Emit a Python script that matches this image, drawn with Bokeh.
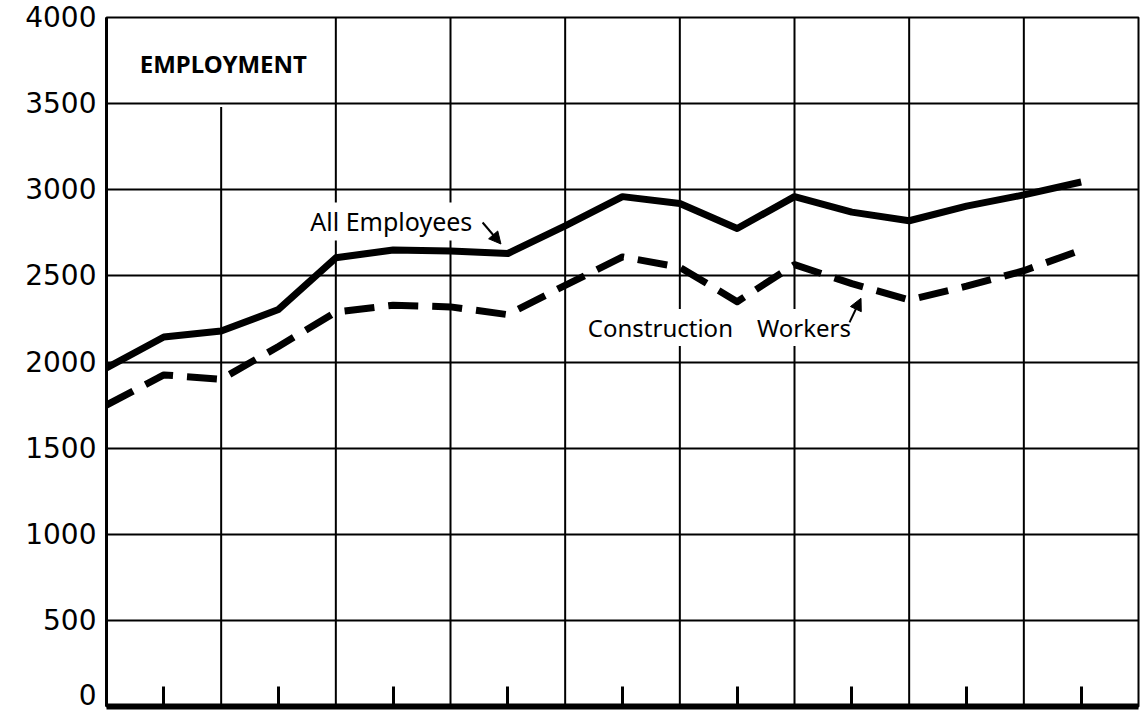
from bokeh.plotting import figure
from bokeh.models import FixedTicker, Label, Arrow, NormalHead, Range1d
from bokeh.embed import file_html
from bokeh.resources import INLINE

# ---- data ----
period = [0.0, 0.5, 1.0, 1.5, 2.0, 2.5, 3.0, 3.5, 4.0, 4.5,
          5.0, 5.5, 6.0, 6.5, 7.0, 7.5, 8.0, 8.5]
all_employees = [1965, 2145, 2180, 2305, 2605, 2650, 2645, 2630, 2790, 2960,
                 2920, 2775, 2960, 2870, 2820, 2905, 2970, 3045]
construction_workers = [1750, 1925, 1900, 2090, 2290, 2330, 2320, 2275, 2445, 2610,
                        2550, 2350, 2565, 2455, 2360, 2440, 2530, 2650]
y_ticks = [0, 500, 1000, 1500, 2000, 2500, 3000, 3500, 4000]
x_marks = [0.5, 1.5, 2.5, 3.5, 4.5, 5.5, 6.5, 7.5, 8.5]
grid_x = [1, 2, 3, 4, 5, 6, 7, 8]
grid_top = [3480, 4000, 4000, 4000, 4000, 4000, 4000, 4000]

p = figure(width=1141, height=712, x_range=Range1d(0, 9), y_range=Range1d(0, 4000),
           output_backend="svg", toolbar_location=None,
           min_border_left=106, min_border_right=3, min_border_top=17, min_border_bottom=6)
p.background_fill_color = "white"
p.border_fill_color = "white"
p.outline_line_color = "black"
p.outline_line_width = 2

# grids
p.xgrid.visible = False
p.ygrid.ticker = FixedTicker(ticks=y_ticks[1:-1])
p.ygrid.grid_line_color = "black"
p.ygrid.grid_line_width = 2
p.ygrid.grid_line_alpha = 1.0

p.segment(x0=grid_x, y0=[0] * len(grid_x), x1=grid_x, y1=grid_top,
          line_color="black", line_width=2)

# y axis
p.yaxis.ticker = FixedTicker(ticks=y_ticks)
p.yaxis.major_tick_in = 0
p.yaxis.major_tick_out = 0
p.yaxis.minor_tick_line_color = None
p.yaxis.axis_line_width = 3
p.yaxis.axis_line_color = "black"
p.yaxis.major_label_text_font = "DejaVu Sans"
p.yaxis.major_label_text_font_size = "28px"
p.yaxis.major_label_text_color = "black"
p.yaxis.major_label_standoff = 10
p.yaxis.major_label_text_line_height = 0.02
# the zero label sits a little above the base line, as in the reference
p.yaxis.major_label_overrides = {0: "0\n "}

# x axis: thick base line with inward marks, no labels
p.xaxis.ticker = FixedTicker(ticks=x_marks)
p.xaxis.major_tick_in = 20
p.xaxis.major_tick_out = 0
p.xaxis.major_tick_line_width = 3
p.xaxis.major_tick_line_color = "black"
p.xaxis.minor_tick_line_color = None
p.xaxis.axis_line_width = 6
p.xaxis.axis_line_color = "black"
p.xaxis.major_label_text_font_size = "1px"
p.xaxis.major_label_text_alpha = 0
p.xaxis.major_label_standoff = 0

# data lines
p.line(period, all_employees, line_color="black", line_width=7, line_join="round")
p.line(period, construction_workers, line_color="black", line_width=7,
       line_dash="30 14", line_join="round")

# labels
lab_font = "Noto Sans"
p.add_layout(Label(x=0.29, y=3734, text="EMPLOYMENT", text_font=lab_font,
                   text_font_style="bold", text_font_size="24px", text_color="black",
                   text_baseline="middle", text_align="left"))
p.add_layout(Label(x=1.76, y=2816, text="All Employees", text_font=lab_font,
                   text_font_size="25px", text_color="black", text_baseline="middle",
                   text_align="left", background_fill_color="white", padding=2))
p.add_layout(Label(x=4.18, y=2200, text="Construction\u2003Workers", text_font=lab_font,
                   text_font_size="24px", text_color="black", text_baseline="middle",
                   text_align="left", background_fill_color="white", padding=2))

p.add_layout(Arrow(end=NormalHead(size=12, fill_color="black", line_color="black"),
                   x_start=3.28, y_start=2810, x_end=3.44, y_end=2685,
                   line_width=2, line_color="black"))
p.add_layout(Arrow(end=NormalHead(size=12, fill_color="black", line_color="black"),
                   x_start=6.48, y_start=2230, x_end=6.58, y_end=2370,
                   line_width=2, line_color="black"))

open("out.html", "w").write(file_html(p, INLINE))
